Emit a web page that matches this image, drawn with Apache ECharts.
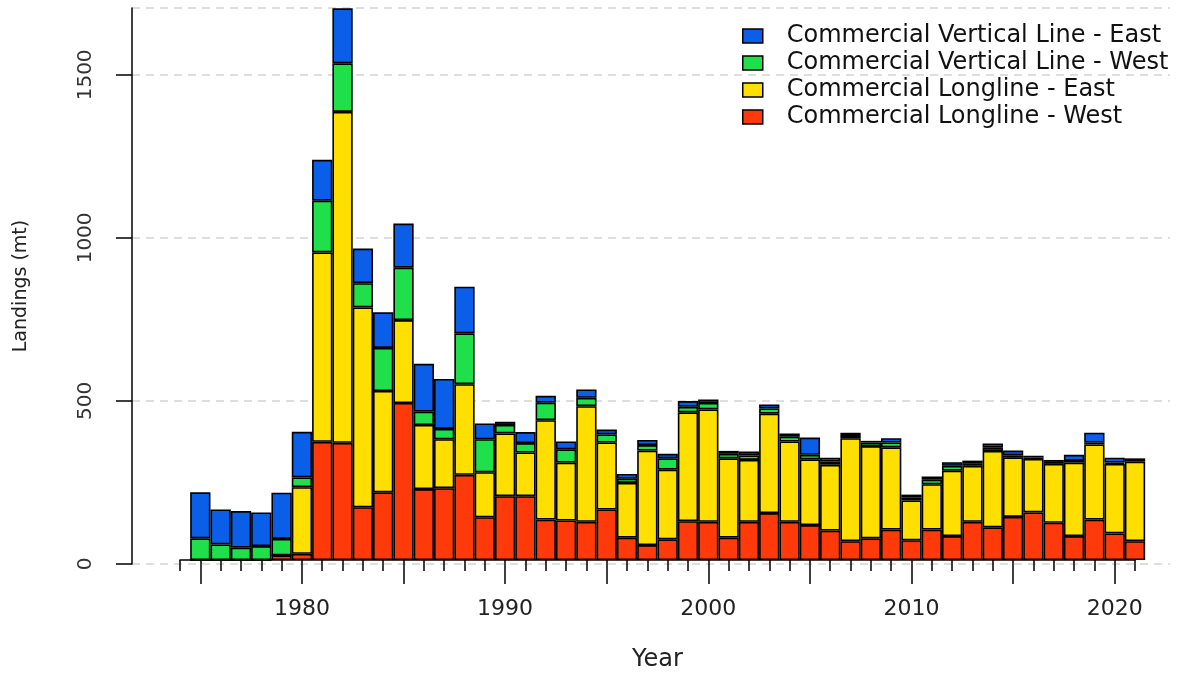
<!DOCTYPE html>
<html><head><meta charset="utf-8">
<script src="https://cdn.jsdelivr.net/npm/echarts@6/dist/echarts.min.js"></script>
<style>html,body{margin:0;padding:0;background:#fff}#c{width:1181px;height:677px}</style>
</head><body><div id="c"></div>
<script>
// Axis categories (1974 is an empty leading tick)
const axisYears = ['1974','1975','1976','1977','1978','1979','1980','1981','1982','1983','1984','1985','1986','1987','1988','1989','1990','1991','1992','1993','1994','1995','1996','1997','1998','1999','2000','2001','2002','2003','2004','2005','2006','2007','2008','2009','2010','2011','2012','2013','2014','2015','2016','2017','2018','2019','2020','2021'];
// Data years
const years = ['1975','1976','1977','1978','1979','1980','1981','1982','1983','1984','1985','1986','1987','1988','1989','1990','1991','1992','1993','1994','1995','1996','1997','1998','1999','2000','2001','2002','2003','2004','2005','2006','2007','2008','2009','2010','2011','2012','2013','2014','2015','2016','2017','2018','2019','2020','2021'];
const longlineWest = [0,0,0,0,14,19,365,362,163,209,485,219,222,263,132,197,197,125,122,118,156,69,46,64,120,118,69,118,145,118,108,91,58,67,94,61,94,74,118,101,133,147,115,74,125,82,58];
const longlineEast = [0,0,0,0,0,206,585,1022,617,313,256,198,151,280,139,194,135,307,179,357,207,169,292,215,336,347,245,191,307,248,203,203,318,285,254,123,140,202,173,236,184,165,182,227,232,215,246];
const verticalWest = [67,48,38,43,51,30,160,150,75,133,162,41,32,157,102,26,29,54,41,26,25,13,17,35,17,20,14,14,16,15,14,10,10,11,15,10,14,15,8,11,6,5,6,5,6,4,5];
const verticalEast = [142,108,113,104,143,141,126,170,107,110,136,148,154,144,49,10,34,21,24,26,15,15,16,14,18,11,9,12,12,10,53,12,7,5,13,8,10,11,8,12,15,5,6,19,30,15,5];
const seriesNames = ['Commercial Longline - West','Commercial Longline - East','Commercial Vertical Line - West','Commercial Vertical Line - East'];
const legendOrder = ['Commercial Vertical Line - East','Commercial Vertical Line - West','Commercial Longline - East','Commercial Longline - West'];
const yTicks = [0,500,1000,1500];
const colors = ['#ff3a0a','#ffdf00','#1fe04a','#0a5ee8'];

function align(vals){
  return axisYears.map(y => { const i = years.indexOf(y); return i < 0 ? null : vals[i]; });
}
const FONT = 'DejaVu Sans';
const YMAX = 1705;
const chart = echarts.init(document.getElementById('c'), null, {renderer:'canvas'});
const valuesList = [longlineWest, longlineEast, verticalWest, verticalEast];
chart.setOption({
  animation:false,
  backgroundColor:'#fff',
  grid:[
    {left:180, right:46, top:8, bottom:113},
    {left:132, right:11, top:8, bottom:113}
  ],
  legend:{
    data: legendOrder,
    orient:'vertical', left:737, top:18,
    itemWidth:20, itemHeight:14, itemGap:1,
    icon:'rect',
    itemStyle:{borderColor:'#000', borderWidth:1.5},
    textStyle:{fontFamily:FONT, fontSize:24, color:'#111', lineHeight:26, padding:[0,0,0,19]}
  },
  xAxis:[
    {type:'category', gridIndex:0, data:axisYears, boundaryGap:false, offset:2,
     axisLine:{show:true, lineStyle:{color:'#000', width:1.5}},
     axisTick:{show:true, length:11, interval:0, lineStyle:{color:'#000', width:1.5}},
     axisLabel:{show:false}, splitLine:{show:false}},
    {type:'category', gridIndex:0, data:axisYears, boundaryGap:false, offset:2, position:'bottom',
     axisLine:{show:false},
     axisTick:{show:true, length:22, interval:(i,v)=>Number(v)%5===0, lineStyle:{color:'#000', width:1.5}},
     axisLabel:{show:true, interval:(i,v)=>Number(v)%10===0, margin:36, fontFamily:FONT, fontSize:22, color:'#222'},
     name:'Year', nameLocation:'middle', nameGap:86,
     nameTextStyle:{fontFamily:FONT, fontSize:24, color:'#222'},
     splitLine:{show:false}},
    {type:'value', gridIndex:1, min:0, max:1, show:false}
  ],
  yAxis:[
    {type:'value', gridIndex:0, min:0, max:YMAX, show:false, splitLine:{show:false}},
    {type:'value', gridIndex:1, min:0, max:YMAX, interval:500,
     axisLine:{show:true, lineStyle:{color:'#000', width:1.5}},
     axisTick:{show:true, inside:false, length:16, lineStyle:{color:'#000', width:1.5}},
     axisLabel:{show:true, rotate:90, margin:36, showMaxLabel:false,
       formatter:v => yTicks.indexOf(v) >= 0 ? String(v) : '',
       fontFamily:FONT, fontSize:20, color:'#333'},
     splitLine:{show:true, lineStyle:{color:'#d4d4d4', type:[8,6], width:1.5}},
     name:'Landings (mt)', nameLocation:'middle', nameRotate:90, nameGap:101,
     nameTextStyle:{fontFamily:FONT, fontSize:19, color:'#222'}}
  ],
  series: seriesNames.map((n, k) => ({
    name:n, type:'bar', stack:'total', xAxisIndex:0, yAxisIndex:0,
    data: align(valuesList[k]),
    barCategoryGap:'0%', barGap:'0%',
    itemStyle:{color:colors[k], borderColor:'#000', borderWidth:1.6},
    emphasis:{disabled:true}
  }))
});
</script></body></html>
